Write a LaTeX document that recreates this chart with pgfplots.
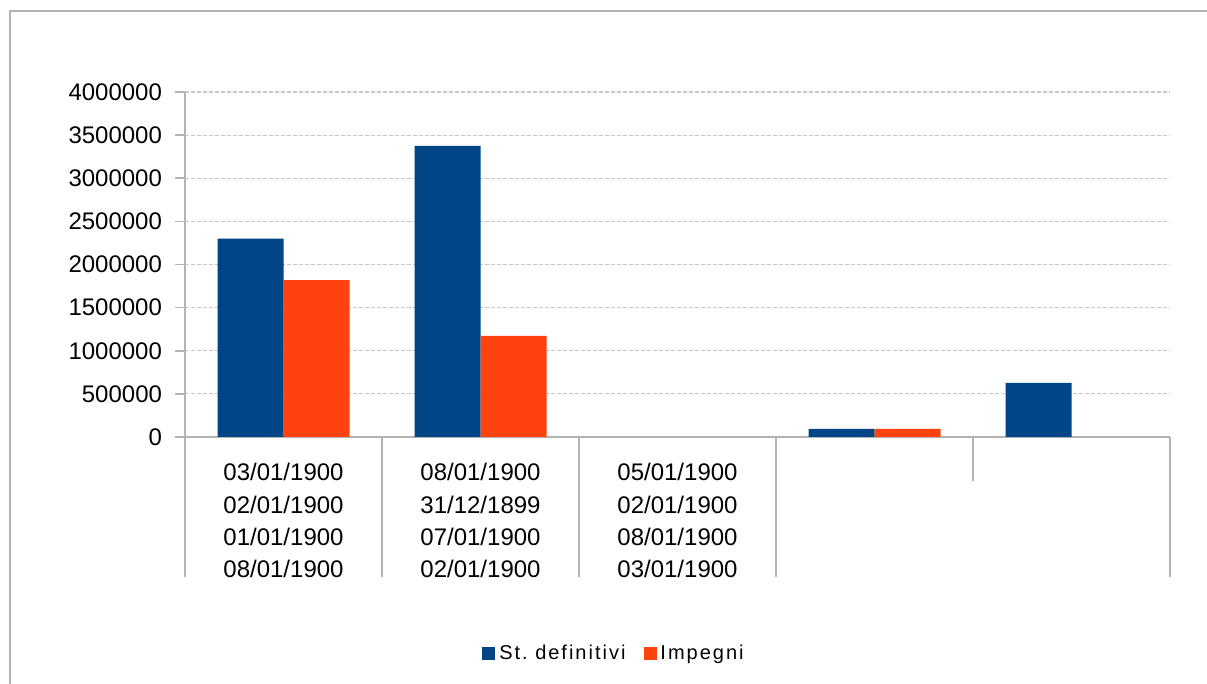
\documentclass[border=0pt]{standalone}
\usepackage{pgfplots}
\pgfplotsset{compat=1.18}
\usepackage{fontspec}
\setmainfont{Liberation Sans}
\definecolor{sblue}{HTML}{004586}
\definecolor{sorange}{HTML}{FF420E}
\definecolor{axgray}{HTML}{B3B3B3}
\definecolor{grgray}{HTML}{C8C8C8}
\begin{document}
\begin{tikzpicture}
\path[use as bounding box] (0,0) rectangle (603.5bp,342bp);
\draw[axgray, line width=0.8bp] (5bp,0) -- (5bp,336.5bp) -- (603.5bp,336.5bp);
\begin{axis}[
  at={(92.5bp,123.5bp)}, anchor=south west,
  scale only axis, width=492.5bp, height=172.5bp,
  xmin=0, xmax=5, ymin=0, ymax=4000000,
  ybar=0pt, bar width=33bp,
  axis x line*=bottom, axis y line*=left,
  axis line style={axgray, line width=0.8bp, -},
  xtick=\empty,
  ytick={0,500000,...,4000000},
  scaled y ticks=false,
  yticklabel style={/pgf/number format/fixed, /pgf/number format/1000 sep={}, /pgf/number format/assume math mode=true, font=\fontsize{12bp}{14bp}\selectfont, xshift=-3bp},
  tick align=outside, major tick length=5bp,
  tick style={axgray, line width=0.8bp},
  ymajorgrids, grid style={grgray, line width=0.6bp, dash pattern=on 2bp off 1bp},
  clip=false,
  legend style={at={(0.4365,-0.629)}, anchor=center, draw=none, legend columns=2, font=\fontsize{10bp}{12bp}\selectfont\addfontfeatures{LetterSpace=10}, /tikz/every even column/.append style={column sep=7bp}},
  legend image code/.code={\fill[#1] (0bp,-3.2bp) rectangle (6.5bp,3.3bp);},
]
\addplot[fill=sblue, draw=none] coordinates {(0.5,2300000) (1.5,3375000) (3.5,95000) (4.5,627000)};
\addplot[fill=sorange, draw=none] coordinates {(0.5,1820000) (1.5,1172000) (3.5,95000)};
\legend{St.\ definitivi, Impegni}
\draw[axgray, line width=0.8bp] (axis cs:0,0) -- ++(0,-70bp);
\draw[axgray, line width=0.8bp] (axis cs:1,0) -- ++(0,-70bp);
\draw[axgray, line width=0.8bp] (axis cs:2,0) -- ++(0,-70bp);
\draw[axgray, line width=0.8bp] (axis cs:3,0) -- ++(0,-70bp);
\draw[axgray, line width=0.8bp] (axis cs:5,0) -- ++(0,-70bp);
\draw[axgray, line width=0.8bp] (axis cs:4,0) -- ++(0,-22bp);
\node[font=\fontsize{12bp}{14bp}\selectfont] at ([yshift=-17.5bp]axis cs:0.5,0) {03/01/1900};
\node[font=\fontsize{12bp}{14bp}\selectfont] at ([yshift=-34bp]axis cs:0.5,0) {02/01/1900};
\node[font=\fontsize{12bp}{14bp}\selectfont] at ([yshift=-50bp]axis cs:0.5,0) {01/01/1900};
\node[font=\fontsize{12bp}{14bp}\selectfont] at ([yshift=-66bp]axis cs:0.5,0) {08/01/1900};
\node[font=\fontsize{12bp}{14bp}\selectfont] at ([yshift=-17.5bp]axis cs:1.5,0) {08/01/1900};
\node[font=\fontsize{12bp}{14bp}\selectfont] at ([yshift=-34bp]axis cs:1.5,0) {31/12/1899};
\node[font=\fontsize{12bp}{14bp}\selectfont] at ([yshift=-50bp]axis cs:1.5,0) {07/01/1900};
\node[font=\fontsize{12bp}{14bp}\selectfont] at ([yshift=-66bp]axis cs:1.5,0) {02/01/1900};
\node[font=\fontsize{12bp}{14bp}\selectfont] at ([yshift=-17.5bp]axis cs:2.5,0) {05/01/1900};
\node[font=\fontsize{12bp}{14bp}\selectfont] at ([yshift=-34bp]axis cs:2.5,0) {02/01/1900};
\node[font=\fontsize{12bp}{14bp}\selectfont] at ([yshift=-50bp]axis cs:2.5,0) {08/01/1900};
\node[font=\fontsize{12bp}{14bp}\selectfont] at ([yshift=-66bp]axis cs:2.5,0) {03/01/1900};
\end{axis}
\end{tikzpicture}
\end{document}
